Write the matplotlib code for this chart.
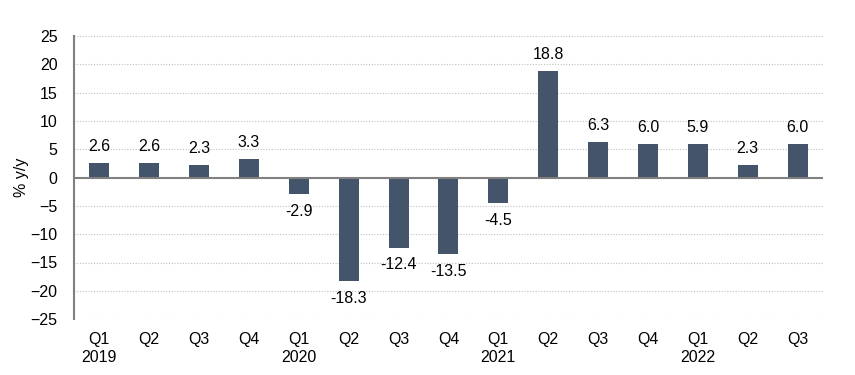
import matplotlib.pyplot as plt

quarters = ["Q1", "Q2", "Q3", "Q4"] * 3 + ["Q1", "Q2", "Q3"]
years = ["2019", "", "", "", "2020", "", "", "", "2021", "", "", "", "2022", "", ""]
values = [2.6, 2.6, 2.3, 3.3, -2.9, -18.3, -12.4, -13.5, -4.5, 18.8, 6.3, 6.0, 5.9, 2.3, 6.0]

plt.rcParams['font.family'] = ['Liberation Sans', 'DejaVu Sans']
fs = 11.5

fig, ax = plt.subplots(figsize=(8.55, 3.75), dpi=100)
fig.subplots_adjust(left=0.087, right=0.962, top=0.904, bottom=0.149)

x = list(range(len(values)))
bars = ax.bar(x, values, width=0.4, color="#44546A", zorder=3)

# data labels outside the bar ends
for xi, v in zip(x, values):
    if v >= 0:
        ax.annotate(f"{v:.1f}", (xi, v), xytext=(0, 6.5), textcoords="offset points",
                    ha="center", va="bottom", fontsize=fs)
    else:
        ax.annotate(f"{v:.1f}", (xi, v), xytext=(0, -7), textcoords="offset points",
                    ha="center", va="top", fontsize=fs)

ax.set_xlim(-0.5, len(values) - 0.5)
ax.set_ylim(-25, 25)
ax.set_yticks(range(-25, 30, 5))
ax.set_xticks(x)
ax.set_xticklabels([f"{q}\n{y}" if y else q for q, y in zip(quarters, years)],
                   fontsize=fs, linespacing=1.25)
for lbl in ax.get_xticklabels():
    lbl.set_verticalalignment("top")
ax.tick_params(axis="y", labelsize=fs, length=0, pad=12)
ax.tick_params(axis="x", length=0, pad=9)

ax.grid(axis="y", color="#BFBFBF", linestyle=(0, (1, 1.5)), linewidth=0.8, zorder=0)
ax.axhline(0, color="#808080", linewidth=1.5, zorder=4)

for s in ["top", "right", "bottom"]:
    ax.spines[s].set_visible(False)
ax.spines["left"].set_color("#808080")
ax.spines["left"].set_linewidth(1.5)

ax.set_ylabel("% y/y", fontsize=fs, labelpad=1)

fig.savefig("out.png", dpi=100)
